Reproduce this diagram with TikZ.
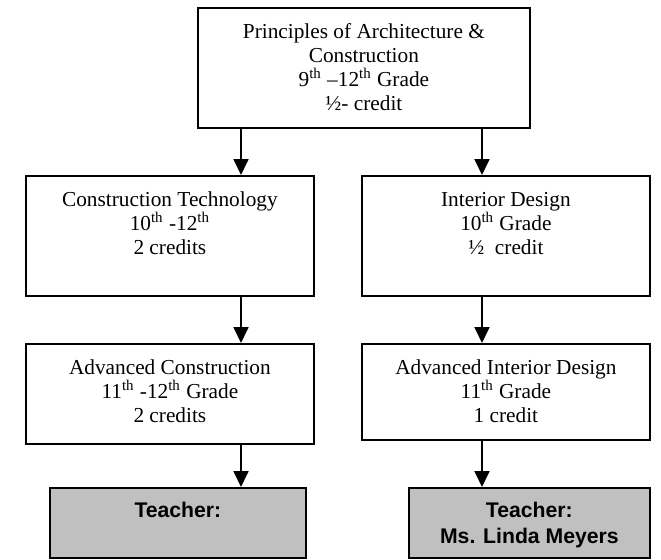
\documentclass[tikz,border=0pt]{standalone}
\usepackage{fontspec}
\setmainfont{Liberation Serif}
\newfontfamily\arialfont{Liberation Sans}
\usetikzlibrary{arrows.meta}
\definecolor{boxgray}{HTML}{C0C0C0}
\begin{document}
\begin{tikzpicture}[x=0.5pt,y=-0.5pt,
  box/.style={draw=black, line width=0.9pt, inner sep=0pt, anchor=north west, fill=white},
  tbox/.style={box, fill=boxgray},
  txt/.style={anchor=north, inner sep=0pt, align=center, font=\fontsize{10.65}{12}\selectfont},
  ttxt/.style={anchor=north, inner sep=0pt, align=center, font=\arialfont\bfseries\fontsize{10.6}{12.8}\selectfont},
  arr/.style={line width=0.9pt, -{Triangle[length=8pt,width=7.5pt]}}]
\useasboundingbox (0,0) rectangle (661,559);
% boxes
\node[box, minimum width=166pt, minimum height=60pt] (top) at (197,7) {};
\node[box, minimum width=144pt, minimum height=60pt] (ct) at (25,175) {};
\node[box, minimum width=144pt, minimum height=60pt] (id) at (361,175) {};
\node[box, minimum width=144pt, minimum height=50pt] (ac) at (25,343) {};
\node[box, minimum width=144pt, minimum height=48pt] (aid) at (361,343) {};
\node[tbox, minimum width=128pt, minimum height=35pt] (tl) at (49,487) {};
\node[tbox, minimum width=120.5pt, minimum height=35pt] (tr) at (408,487) {};
% texts
\node[txt] (toptxt) at ([yshift=-7.5pt]top.north) {\rule{0pt}{8pt}Principles of Architecture \&\\Construction\\9\textsuperscript{th} –12\textsuperscript{th} Grade\\½- credit};
\node[txt] (cttxt) at ([yshift=-7.5pt]ct.north) {\rule{0pt}{8pt}Construction Technology\\10\textsuperscript{th} -12\textsuperscript{th}\\2 credits};
\node[txt] (idtxt) at ([yshift=-7.5pt]id.north) {\rule{0pt}{8pt}Interior Design\\10\textsuperscript{th} Grade\\½\ \ credit};
\node[txt] (actxt) at ([yshift=-7.5pt]ac.north) {\rule{0pt}{8pt}Advanced Construction\\11\textsuperscript{th} -12\textsuperscript{th} Grade\\2 credits};
\node[txt] (aidtxt) at ([yshift=-7.5pt]aid.north) {\rule{0pt}{8pt}Advanced Interior Design\\11\textsuperscript{th} Grade\\1 credit};
\node[ttxt] (tltxt) at ([yshift=-7pt]tl.north) {\rule{0pt}{8pt}Teacher:};
\node[ttxt] (trtxt) at ([yshift=-7pt]tr.north) {\rule{0pt}{8pt}Teacher:\\Ms. Linda Meyers};
% arrows
\coordinate (aL) at (241,0);
\coordinate (aR) at (482,0);
\draw[arr] (top.south -| aL) -- (ct.north -| aL);
\draw[arr] (top.south -| aR) -- (id.north -| aR);
\draw[arr] (ct.south -| aL) -- (ac.north -| aL);
\draw[arr] (id.south -| aR) -- (aid.north -| aR);
\draw[arr] (ac.south -| aL) -- (tl.north -| aL);
\draw[arr] (aid.south -| aR) -- (tr.north -| aR);
\end{tikzpicture}
\end{document}
